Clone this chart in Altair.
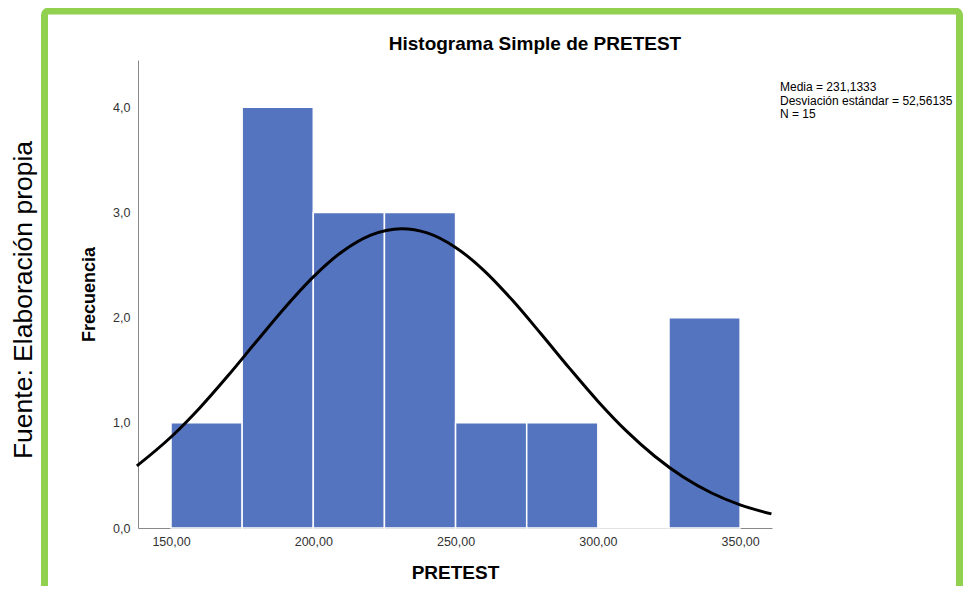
import altair as alt
import pandas as pd

# Histogram bins (PRETEST) and frequencies
bin_start = [150, 175, 200, 225, 250, 275, 300, 325]
bin_end = [175, 200, 225, 250, 275, 300, 325, 350]
freq = [1, 4, 3, 3, 1, 1, 0, 2]

# Normal curve points
curve_x = [138, 150, 160, 170, 180, 190, 200, 210, 220, 231, 240, 250, 260, 270,
           280, 290, 300, 310, 320, 330, 340, 350, 361]
curve_y = [0.59, 0.865, 1.139, 1.447, 1.773, 2.095, 2.388, 2.625, 2.783, 2.846, 2.806,
           2.668, 2.448, 2.165, 1.847, 1.520, 1.206, 0.923, 0.682, 0.485, 0.333, 0.22, 0.134]

x_ticks = [150, 200, 250, 300, 350]
y_ticks = [0, 1, 2, 3, 4]

title_text = "Histograma Simple de PRETEST"
stats_lines = ["Media = 231,1333", "Desviación estándar = 52,56135", "N = 15"]
source_text = "Fuente: Elaboración propia"

FONT = "Liberation Sans"
W, H = 634, 468

bars_df = pd.DataFrame({"start": bin_start, "end": bin_end, "freq": freq})
curve_df = pd.DataFrame({"x": curve_x, "y": curve_y})
one = pd.DataFrame({"a": [0]})

xscale = alt.Scale(domain=[138.4, 361.2], nice=False, zero=False)
yscale = alt.Scale(domain=[0, 4.45], nice=False)

bars = alt.Chart(bars_df).mark_bar(
    color="#5574BF", stroke="white", strokeWidth=1.5
).encode(
    x=alt.X("start:Q", scale=xscale,
            axis=alt.Axis(values=x_ticks, title="PRETEST",
                          labelExpr="replace(format(datum.value, '.2f'), '.', ',')",
                          ticks=False, labelPadding=7, grid=False,
                          titlePadding=16, titleFontSize=19, titleFontWeight="bold",
                          titleColor="#000000")),
    x2="end:Q",
    y=alt.Y("freq:Q", scale=yscale,
            axis=alt.Axis(values=y_ticks, title="Frecuencia",
                          labelExpr="replace(format(datum.value, '.1f'), '.', ',')",
                          ticks=False, labelPadding=8, grid=False,
                          titlePadding=14, titleFontSize=18, titleFontWeight="bold",
                          titleColor="#000000")),
    y2=alt.datum(0),
)

curve = alt.Chart(curve_df).mark_line(
    color="black", strokeWidth=3, interpolate="monotone"
).encode(x=alt.X("x:Q", scale=xscale), y=alt.Y("y:Q", scale=yscale))

title = alt.Chart(one).mark_text(
    align="center", baseline="middle", fontSize=19, fontWeight="bold", font=FONT, color="#000000"
).encode(x=alt.value(397), y=alt.value(-16), text=alt.value(title_text))

stats = alt.Chart(one).mark_text(
    align="left", baseline="top", fontSize=12, lineHeight=13.5, font=FONT, color="#000000"
).encode(x=alt.value(642), y=alt.value(22), text=alt.value(stats_lines))

source = alt.Chart(one).mark_text(
    align="center", baseline="middle", fontSize=26.5, font=FONT, color="#000000", angle=270
).encode(x=alt.value(-114), y=alt.value(240), text=alt.value(source_text))

frame = alt.Chart(one).mark_rect(
    fillOpacity=0, stroke="#92D050", strokeWidth=7, cornerRadius=4
).encode(x=alt.value(-93.5), x2=alt.value(821.5), y=alt.value(-49), y2=alt.value(531.5))

chart = alt.layer(frame, bars, curve, title, stats, source).properties(
    width=W, height=H,
    autosize=alt.AutoSizeParams(type="none"),
    padding={"left": 130, "top": 52, "right": 191, "bottom": 58},
).configure_view(stroke=None).configure_axis(
    labelFont=FONT, titleFont=FONT, labelFontSize=12.5, labelColor="#333333",
    domainColor="#888888", domainWidth=1
)

chart.save("out.html", embed_options={"renderer": "svg", "actions": False})
